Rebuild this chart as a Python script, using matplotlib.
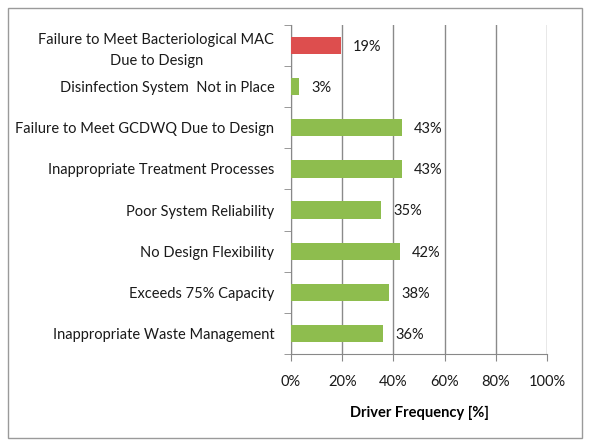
import matplotlib.pyplot as plt
from matplotlib.patches import Rectangle
import numpy as np

plt.rcParams['font.family'] = ['Lato', 'DejaVu Sans']

# categories, top to bottom
drivers = ['Failure to Meet Bacteriological MAC\nDue to Design',
           'Disinfection System  Not in Place',
           'Failure to Meet GCDWQ Due to Design',
           'Inappropriate Treatment Processes',
           'Poor System Reliability',
           'No Design Flexibility',
           'Exceeds 75% Capacity',
           'Inappropriate Waste Management']
freq = [19.4, 3.1, 43.2, 43.2, 35.2, 42.4, 38.4, 36.1]
bar_colors = ['#DD4E4E'] + ['#8EBD4E'] * 7
xticks = [0, 20, 40, 60, 80, 100]

W, H = 590, 448
fig = plt.figure(figsize=(W / 100, H / 100), dpi=100)
fig.patches.append(Rectangle((8 / W, 10 / H), 574 / W, 430 / H, transform=fig.transFigure,
                             fill=False, edgecolor='#9a9a9a', linewidth=1))

ax = fig.add_axes([291 / W, (H - 354) / H, 256 / W, 329 / H])
y = np.arange(len(drivers))
ax.barh(y, freq, height=0.42, color=bar_colors, zorder=3)
for yi, v in zip(y, freq):
    ax.annotate(f'{v:.0f}%', (v, yi), xytext=(9, -1), textcoords='offset points',
                va='center', ha='left', fontsize=10.5, color='#1a1a1a')

ax.set_xlim(0, 100)
ax.set_ylim(len(drivers) - 0.5, -0.5)
ax.set_xticks(xticks)
ax.set_xticklabels([f'{t}%' for t in xticks], fontsize=10.5, color='#1a1a1a')
ax.set_yticks(y)
ax.set_yticklabels(drivers, fontsize=10.5, color='#1a1a1a', multialignment='center',
                   linespacing=1.65)
ax.tick_params(axis='y', length=0, pad=12)
ax.set_yticks(np.arange(-0.5, len(drivers)), minor=True)
ax.tick_params(axis='y', which='minor', length=5, color='#888888')
ax.tick_params(axis='x', length=5, color='#888888', pad=10)
ax.grid(axis='x', color='#8a8a8a', linewidth=1, zorder=0)
for s in ['top', 'right']:
    ax.spines[s].set_visible(False)
for s in ['left', 'bottom']:
    ax.spines[s].set_color('#888888')
ax.set_xlabel('Driver Frequency [%]', fontsize=10.5, fontweight='bold', labelpad=12)

fig.savefig('out.png', dpi=100)
